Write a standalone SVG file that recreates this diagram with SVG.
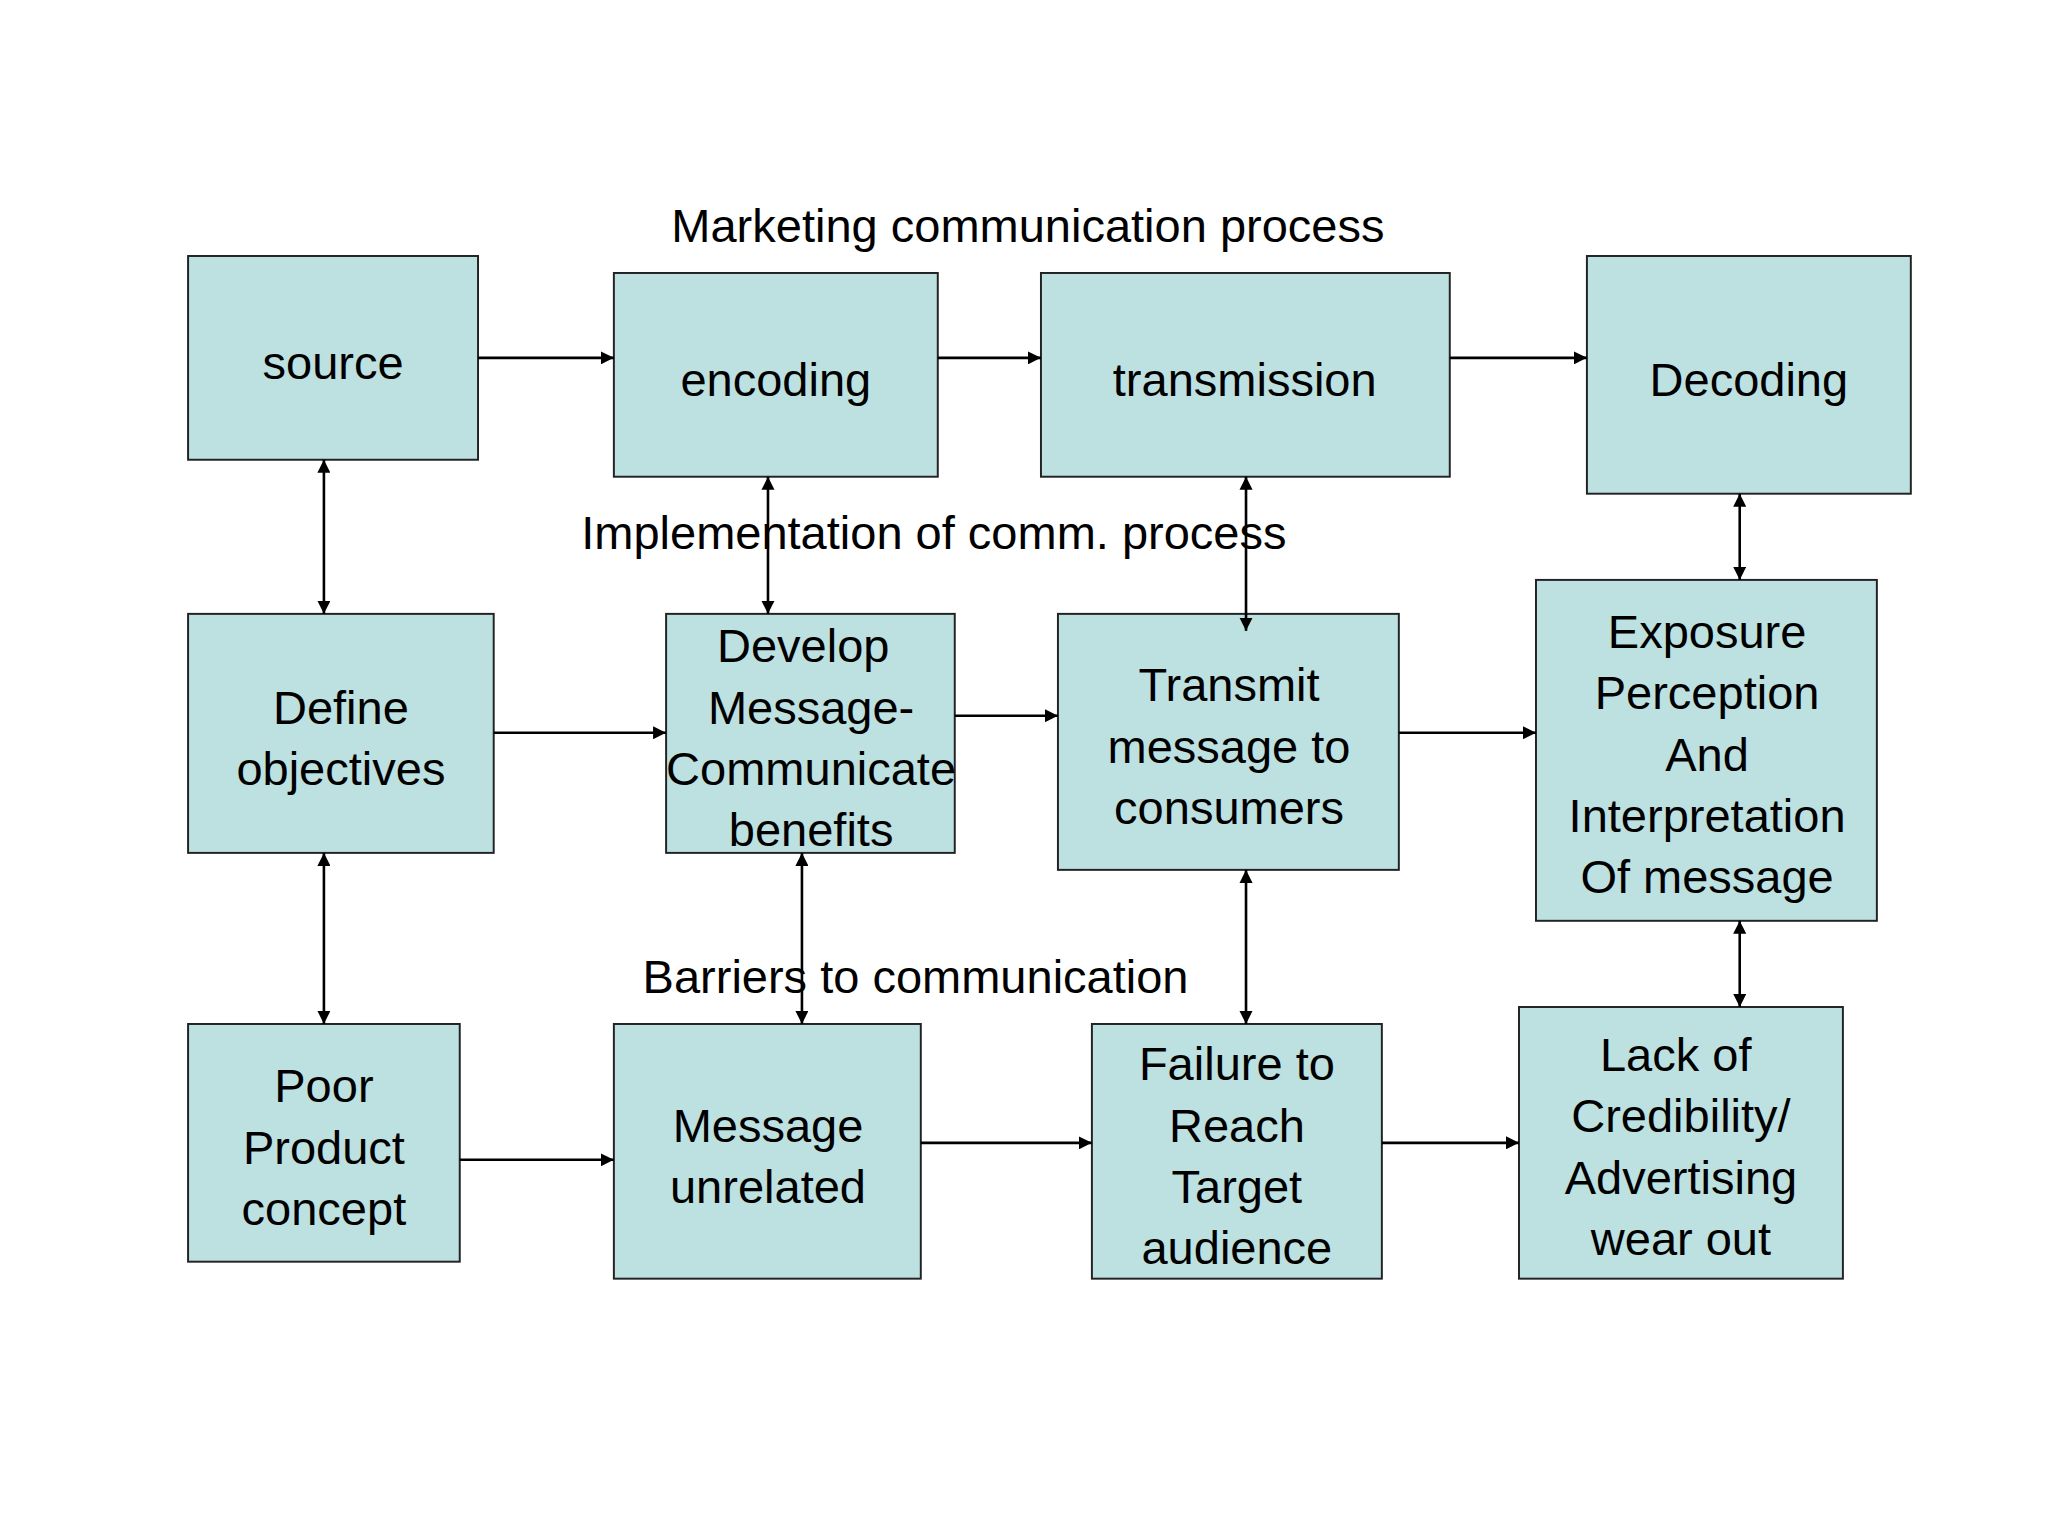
<svg xmlns="http://www.w3.org/2000/svg" width="2048" height="1536" viewBox="0 0 2048 1536">
<defs>
<marker id="ah" viewBox="0 0 10 10" refX="10" refY="5" markerWidth="10" markerHeight="10" markerUnits="userSpaceOnUse" orient="auto-start-reverse"><path d="M0,0 L10,5 L0,10 z" fill="#000"/></marker>
<style>
.b{fill:#bde0e1;stroke:#222;stroke-width:1.5}
.t{font-family:"Liberation Sans",Arial,sans-serif;font-size:36px;fill:#000;text-anchor:middle}
.h{font-family:"Liberation Sans",Arial,sans-serif;font-size:36px;fill:#000}
.c line{stroke:#000;stroke-width:2}
.s{marker-end:url(#ah)}
.d{marker-start:url(#ah);marker-end:url(#ah)}
</style>
</defs>
<rect width="2048" height="1536" fill="#fff"/>
<g transform="scale(1.3061)">
<text class="h" x="514" y="185">Marketing communication process</text>
<g id="source"><rect class="b" x="144" y="196" width="222" height="156"/><text class="t" x="255" y="290">source</text></g>
<g id="encoding"><rect class="b" x="470" y="209" width="248" height="156"/><text class="t" x="594" y="303">encoding</text></g>
<g id="transmission"><rect class="b" x="797" y="209" width="313" height="156"/><text class="t" x="953" y="303">transmission</text></g>
<g id="decoding"><rect class="b" x="1215" y="196" width="248" height="182"/><text class="t" x="1339" y="303">Decoding</text></g>
<g id="define"><rect class="b" x="144" y="470" width="234" height="183"/><text class="t" x="261" y="554">Define</text><text class="t" x="261" y="601">objectives</text></g>
<g id="develop"><rect class="b" x="510" y="470" width="221" height="183"/><text class="t" x="615" y="507">Develop</text><text class="t" x="621" y="554">Message-</text><text class="t" x="621" y="601">Communicate</text><text class="t" x="621" y="648">benefits</text></g>
<g id="transmit"><rect class="b" x="810" y="470" width="261" height="196"/><text class="t" x="941" y="537">Transmit</text><text class="t" x="941" y="584">message to</text><text class="t" x="941" y="631">consumers</text></g>
<g id="exposure"><rect class="b" x="1176" y="444" width="261" height="261"/><text class="t" x="1307" y="496">Exposure</text><text class="t" x="1307" y="543">Perception</text><text class="t" x="1307" y="590">And</text><text class="t" x="1307" y="637">Interpretation</text><text class="t" x="1307" y="684">Of message</text></g>
<g id="poor"><rect class="b" x="144" y="784" width="208" height="182"/><text class="t" x="248" y="844">Poor</text><text class="t" x="248" y="891">Product</text><text class="t" x="248" y="938">concept</text></g>
<g id="unrelated"><rect class="b" x="470" y="784" width="235" height="195"/><text class="t" x="588" y="874">Message</text><text class="t" x="588" y="921">unrelated</text></g>
<g id="failure"><rect class="b" x="836" y="784" width="222" height="195"/><text class="t" x="947" y="827">Failure to</text><text class="t" x="947" y="874">Reach</text><text class="t" x="947" y="921">Target</text><text class="t" x="947" y="968">audience</text></g>
<g id="lack"><rect class="b" x="1163" y="771" width="248" height="208"/><text class="t" x="1283" y="820">Lack of</text><text class="t" x="1287" y="867">Credibility/</text><text class="t" x="1287" y="914">Advertising</text><text class="t" x="1287" y="961">wear out</text></g>
<g id="connectors" class="c">
<line class="s" x1="366" y1="274" x2="470" y2="274"/>
<line class="s" x1="718" y1="274" x2="797" y2="274"/>
<line class="s" x1="1110" y1="274" x2="1215" y2="274"/>
<line class="d" x1="248" y1="352" x2="248" y2="470"/>
<line class="d" x1="588" y1="365" x2="588" y2="470"/>
<line class="d" x1="954" y1="365" x2="954" y2="483"/>
<line class="d" x1="1332" y1="378" x2="1332" y2="444"/>
<line class="s" x1="378" y1="561" x2="510" y2="561"/>
<line class="s" x1="731" y1="548" x2="810" y2="548"/>
<line class="s" x1="1071" y1="561" x2="1176" y2="561"/>
<line class="d" x1="248" y1="653" x2="248" y2="784"/>
<line class="d" x1="614" y1="653" x2="614" y2="784"/>
<line class="d" x1="954" y1="666" x2="954" y2="784"/>
<line class="d" x1="1332" y1="705" x2="1332" y2="771"/>
<line class="s" x1="352" y1="888" x2="470" y2="888"/>
<line class="s" x1="705" y1="875" x2="836" y2="875"/>
<line class="s" x1="1058" y1="875" x2="1163" y2="875"/>
</g>
<text class="h" x="445" y="420">Implementation of comm. process</text>
<text class="h" x="492" y="760">Barriers to communication</text>
</g>
</svg>
